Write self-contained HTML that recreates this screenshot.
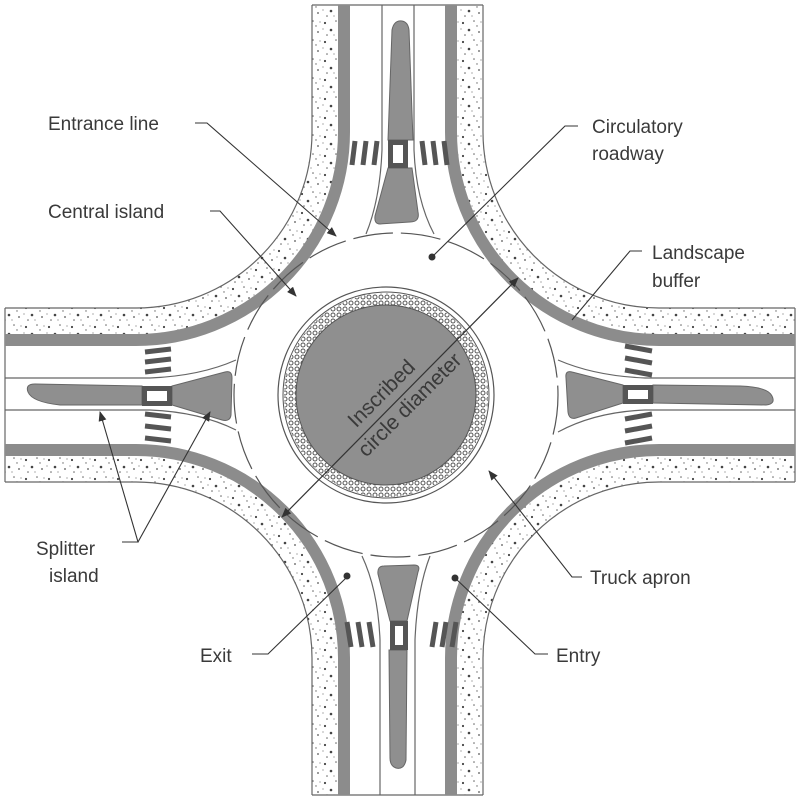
<!DOCTYPE html>
<html><head><meta charset="utf-8"><style>
html,body{margin:0;padding:0;background:#fff}
svg{display:block}
text{font-family:"Liberation Sans",sans-serif;font-size:19px;fill:#3a3a3a}
</style></head><body>
<svg width="800" height="798" viewBox="0 0 800 798" xmlns="http://www.w3.org/2000/svg">
<defs>
<pattern id="dots" width="23" height="19" patternUnits="userSpaceOnUse">
<rect width="23" height="19" fill="#fff"/>
<circle cx="3" cy="4" r="1.1" fill="#444"/><circle cx="14" cy="2" r="0.8" fill="#666"/>
<circle cx="9" cy="11" r="1.3" fill="#444"/><circle cx="19" cy="13" r="0.9" fill="#555"/>
<circle cx="5" cy="16" r="0.8" fill="#666"/><circle cx="17" cy="7" r="0.7" fill="#666"/>
<circle cx="12" cy="16" r="0.6" fill="#777"/><circle cx="21" cy="3" r="0.6" fill="#777"/>
<circle cx="1" cy="10" r="0.6" fill="#777"/>
</pattern>
<pattern id="apron" width="6" height="6" patternUnits="userSpaceOnUse">
<rect width="6" height="6" fill="#fff"/>
<circle cx="3" cy="3" r="2" fill="none" stroke="#555" stroke-width="1"/>
</pattern>
<marker id="ar" markerWidth="10" markerHeight="8" refX="9" refY="4" orient="auto" markerUnits="userSpaceOnUse">
<path d="M0,0 L10,4 L0,8 Z" fill="#333"/></marker>
<marker id="as" markerWidth="10" markerHeight="8" refX="1" refY="4" orient="auto" markerUnits="userSpaceOnUse">
<path d="M10,0 L0,4 L10,8 Z" fill="#333"/></marker>
</defs>

<g fill="none" stroke="url(#dots)" stroke-width="27">
<path d="M325,5 L325,132 A189 189 0 0 1 136,321 L5,321"/>
<path d="M470,5 L470,132 A189 189 0 0 0 659,321 L795,321"/>
<path d="M5,469 L136,469 A189 189 0 0 1 325,658 L325,795"/>
<path d="M795,469 L659,469 A189 189 0 0 0 470,658 L470,795"/>
</g>
<g fill="none" stroke="#666" stroke-width="1.2">
<path d="M312,5 L312,132 A176 176 0 0 1 136,308 L5,308"/>
<path d="M483,5 L483,132 A176 176 0 0 0 659,308 L795,308"/>
<path d="M5,482 L136,482 A176 176 0 0 1 312,658 L312,795"/>
<path d="M795,482 L659,482 A176 176 0 0 0 483,658 L483,795"/>
<path d="M312,5 L483,5 M312,795 L483,795 M5,308 L5,482 M795,308 L795,482"/>
</g>
<g fill="none" stroke="#8c8c8c" stroke-width="12">
<path d="M344,5 L344,132 A208 208 0 0 1 136,340 L5,340"/>
<path d="M451,5 L451,132 A208 208 0 0 0 659,340 L795,340"/>
<path d="M5,450 L136,450 A208 208 0 0 1 344,658 L344,795"/>
<path d="M795,450 L659,450 A208 208 0 0 0 451,658 L451,795"/>
</g>

<circle cx="396" cy="395" r="162" fill="none" stroke="#555" stroke-width="1.2" stroke-dasharray="40 8"/>

<g fill="none" stroke="#666" stroke-width="1.2">
<path d="M382,5 L382,150 Q380,200 366,234"/>
<path d="M414,5 L414,150 Q416,200 434,234"/>
<path d="M5,378 L150,378 Q200,376 236,360"/>
<path d="M5,410 L150,410 Q200,412 236,430"/>
<path d="M795,378 L645,378 Q595,376 558,360"/>
<path d="M795,410 L645,410 Q595,412 558,432"/>
<path d="M380,795 L380,640 Q378,590 362,556"/>
<path d="M415,795 L415,640 Q417,590 430,556"/>
</g>

<g fill="#8f8f8f" stroke="#666" stroke-width="1">
<path d="M392,30 Q394,20 402,21 Q408,22 409,30 L413,140 L388,140 Z"/>
<path d="M388,168 L412,168 L418,212 Q420,222 410,222 L380,224 Q374,224 375,216 Z"/>
<path d="M28,392 Q25,384 35,384 L142,386 L142,405 L60,405 Q32,402 28,392 Z"/>
<path d="M172,386 L225,372 Q232,370 232,378 L231,415 Q230,422 222,420 L172,405 Z"/>
<path d="M772,396 Q776,404 766,405 L653,403 L653,385 L740,386 Q768,387 772,396 Z"/>
<path d="M623,385 L572,372 Q565,370 566,378 L568,412 Q569,420 576,418 L623,403 Z"/>
<path d="M389,650 L407,650 L406,760 Q404,770 396,768 Q390,766 390,758 Z"/>
<path d="M390,621 L407,621 L418,572 Q421,565 414,565 L384,566 Q377,566 378,574 Z"/>
</g>
<g fill="#fff" stroke="#555" stroke-width="5">
<rect x="390.5" y="142.5" width="15" height="23"/>
<rect x="144.5" y="388.5" width="25" height="15"/>
<rect x="625.5" y="387.5" width="25" height="14"/>
<rect x="392.5" y="623.5" width="13" height="24"/>
</g>
<g stroke="#555" stroke-width="5">
<path d="M352,165 L355,141 M363,165 L366,141 M374,165 L377,141"/>
<path d="M422,141 L425,165 M433,141 L436,165 M444,141 L447,165"/>
<path d="M145,352 L171,349 M145,362 L171,359 M145,372 L171,369"/>
<path d="M145,414 L171,417 M145,426 L171,429 M145,438 L171,441"/>
<path d="M625,346 L652,351 M625,358 L652,363 M625,370 L652,375"/>
<path d="M625,419 L652,414 M625,431 L652,426 M625,443 L652,438"/>
<path d="M347,622 L351,647 M358,622 L362,647 M369,622 L373,647"/>
<path d="M436,622 L432,647 M446,622 L442,647 M456,622 L452,647"/>
</g>

<circle cx="386" cy="395" r="108" fill="#fff" stroke="#555" stroke-width="1.2"/>
<circle cx="386" cy="395" r="103" fill="#fff" stroke="#555" stroke-width="1"/>
<circle cx="386" cy="395" r="96" fill="none" stroke="url(#apron)" stroke-width="12"/>
<circle cx="386" cy="395" r="90" fill="#8f8f8f" stroke="#555" stroke-width="1"/>

<line x1="282" y1="517" x2="518" y2="278" stroke="#333" stroke-width="1.2" marker-start="url(#as)" marker-end="url(#ar)"/>
<g transform="translate(399,397) rotate(-45)">
<text x="-10" y="-8" text-anchor="middle" style="font-size:21px;fill:#3a3a3a">Inscribed</text>
<text x="2" y="20" text-anchor="middle" style="font-size:21px;fill:#3a3a3a">circle diameter</text>
</g>

<g fill="none" stroke="#333" stroke-width="1.1">
<path d="M195,123 L207,123 L336,236" marker-end="url(#ar)"/>
<path d="M210,211 L220,211 L296,296" marker-end="url(#ar)"/>
<path d="M578,126 L565,126 L432,257"/>
<path d="M642,251 L630,251 L572,320"/>
<path d="M582,577 L572,577 L489,471" marker-end="url(#ar)"/>
<path d="M122,542 L138,542 L100,412" marker-end="url(#ar)"/>
<path d="M138,542 L210,412" marker-end="url(#ar)"/>
<path d="M252,654 L268,654 L347,577"/>
<path d="M548,654 L535,654 L455,578"/>
</g>
<circle cx="432" cy="257" r="3.5" fill="#333"/>
<circle cx="347" cy="576" r="3.5" fill="#333"/>
<circle cx="455" cy="578" r="3.5" fill="#333"/>

<text x="48" y="130">Entrance line</text>
<text x="48" y="218">Central island</text>
<text x="592" y="133">Circulatory</text>
<text x="592" y="160">roadway</text>
<text x="652" y="259">Landscape</text>
<text x="652" y="287">buffer</text>
<text x="36" y="555">Splitter</text>
<text x="49" y="582">island</text>
<text x="590" y="584">Truck apron</text>
<text x="200" y="662">Exit</text>
<text x="556" y="662">Entry</text>
</svg>
</body></html>
